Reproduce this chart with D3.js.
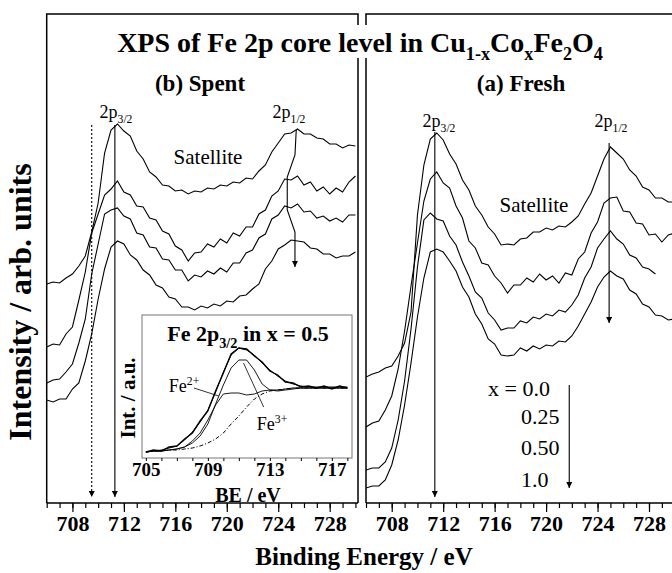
<!DOCTYPE html>
<html>
<head>
<meta charset="utf-8">
<script src="https://cdn.jsdelivr.net/npm/d3@7/dist/d3.min.js"></script>
<style>
  body { margin: 0; background: #fff; }
  svg { display: block; }
  text { font-family: "Liberation Serif", "Times New Roman", serif; fill: #000; }
</style>
</head>
<body>
<div id="chart"></div>
<script>
// Binding energy grid (eV) shared by the spectra
const energyGrid = [706,706.5,707,707.5,708,708.5,709,709.5,710,710.5,711,711.5,712,712.5,713,713.5,714,714.5,715,715.5,716,716.5,717,717.5,718,718.5,719,719.5,720,720.5,721,721.5,722,722.5,723,723.5,724,724.5,725,725.5,726,726.5,727,727.5,728,728.5,729,729.5,730];

// (b) Spent - intensity, arb. units (stacked, top to bottom)
const spent0 = [219,221,220,225,229,237,247,271,300,350,373,379,372,367,352,344,331,326,318,317,312,313,309,312,311,315,314,318,317,321,320,325,324,332,338,351,360,369,370,374,369,369,365,364,359,359,355,358,357];
const spent1 = [156,159,158,169,176,203,231,270,289,308,314,322,311,308,297,296,285,283,272,269,257,253,242,250,251,259,256,264,260,270,267,276,276,289,293,307,312,324,323,327,318,321,312,316,309,315,311,321,327];
const spent2 = [120,123,124,131,139,160,184,229,259,289,293,295,287,284,270,268,256,255,244,243,233,233,222,228,226,232,229,235,231,240,240,250,253,265,269,284,288,297,295,299,291,292,285,287,282,285,281,288,288];
const spent3 = [103,101,104,104,114,120,142,169,204,234,256,262,259,248,243,233,228,218,215,206,204,196,196,193,197,195,199,197,202,201,207,208,214,219,234,242,254,258,263,262,261,255,254,249,249,245,247,247,251];

// (a) Fresh - x = 0.0, 0.25, 0.50, 1.0
const fresh0 = [126,129,131,135,137,147,160,191,288,338,364,370,363,349,339,323,313,297,288,276,269,258,259,258,264,265,271,271,275,273,277,276,281,287,299,310,327,344,356,350,344,333,327,316,313,305,305,301,301];
const fresh1 = [76,80,82,93,107,134,172,217,260,302,324,331,320,315,297,285,262,255,240,238,227,220,210,218,218,225,221,229,223,227,220,230,228,244,251,270,281,300,305,306,292,291,280,279,268,269,261,268,270];
const fresh2 = [33,35,35,41,55,83,122,174,236,283,290,284,282,267,258,241,227,211,205,190,183,173,175,175,182,180,186,184,189,187,193,191,198,208,225,236,255,264,272,264,259,248,245,236,234,229,null,null,null];
const fresh3 = [15,17,17,23,38,63,98,140,186,225,251,254,251,242,232,216,206,189,179,164,159,148,147,148,155,152,157,154,158,157,162,161,167,177,189,201,216,226,232,227,224,213,209,199,196,188,187,183,184];

// Inset: Fe 2p3/2 fit for x = 0.5
const insetEnergy = [705,705.5,706,706.5,707,707.5,708,708.5,709,709.5,710,710.5,711,711.5,712,712.5,713,713.5,714,714.5,715,715.5,716,716.5,717,717.5,718];
const insetData     = [6,8,7,11,12,19,25,37,47,67,85,104,110,109,102,96,87,83,76,75,71,72,70,72,69,72,70];
const insetEnvelope = [6,7,8,10,12,18,26,36,48,66,86,103,110,108,103,95,88,82,77,74,72,71,71,71,71,71,71];
const insetFe2      = [6,7,7,8,9,11,17,25,38,53,64,65,65,63,64,67,68,68,69,70,70,70,70,70,70,70,70];
const insetFe3      = [6,7,7,8,9,11,15,22,34,54,73,90,98,98,88,74,68,67,68,69,70,70,70,70,70,70,70];
const insetBackground = [6,7,7,8,8,9,10,12,15,19,25,34,42,51,59,64,67,68,69,70,70,70,70,70,70,70,70];

const majorTicks = [708,712,716,720,724,728];
const minorTicks = [706,707,708,709,710,711,712,713,714,715,716,717,718,719,720,721,722,723,724,725,726,727,728,729,730];
const insetTickLabels = [705,709,713,717];
const insetTicks = [705,706,707,708,709,710,711,712,713,714,715,716,717,718];
const legendLabels = ["x = 0.0", "0.25", "0.50", "1.0"];

const W = 672, H = 573;

const svg = d3.select("#chart").append("svg")
    .attr("width", W).attr("height", H);

const defs = svg.append("defs");
defs.append("marker")
    .attr("id", "head")
    .attr("viewBox", "0 0 10 10")
    .attr("refX", 10).attr("refY", 5)
    .attr("markerWidth", 10).attr("markerHeight", 6)
    .attr("markerUnits", "userSpaceOnUse")
    .attr("orient", "auto")
  .append("path")
    .attr("d", "M0,0 L10,5 L0,10 Z")
    .attr("fill", "#000");
defs.append("clipPath").attr("id", "clipFresh")
  .append("rect").attr("x", 366).attr("y", 0).attr("width", 306).attr("height", 503);

// scales
const xSpent = d3.scaleLinear().domain([706, 730.2]).range([46.7, 358]);
const xFresh = d3.scaleLinear().domain([706, 730.2]).range([366, 677.3]);
const y = d3.scaleLinear().domain([0, 489]).range([503, 14]);

// texto com subscritos: parts = [[texto, "sub"|"sup"|null], ...]
function richText(g, x, yPos, parts, size, opts = {}) {
    const t = g.append("text")
        .attr("transform", `translate(${x},${yPos})` + (opts.rotate ? ` rotate(${opts.rotate})` : ""))
        .attr("text-anchor", opts.anchor || "middle")
        .attr("font-size", size)
        .attr("font-weight", opts.bold ? "bold" : "normal");
    let shift = 0;
    parts.forEach(([s, kind]) => {
        const target = kind === "sub" ? size * 0.3 : kind === "sup" ? -size * 0.4 : 0;
        t.append("tspan")
            .attr("dy", target - shift)
            .attr("font-size", kind ? size * 0.65 : size)
            .text(s);
        shift = target;
    });
    return t;
}

const line = (x, energies) => d3.line()
    .defined(d => d != null)
    .x((d, i) => x(energies[i]))
    .y(d => y(d));

// frames
const frame = svg.append("g").attr("fill", "none").attr("stroke", "#000").attr("stroke-width", 1.5);
frame.append("path").attr("d", `M46.7,503 V14 H358 V25 M358,58 V503`);
frame.append("path").attr("d", `M672,14 H366 V25 M366,58 V503`);

// axes
function drawAxis(x, x0, x1) {
    const g = svg.append("g").attr("transform", "translate(0,503)");
    g.append("line").attr("x1", x0).attr("x2", x1).attr("stroke", "#000").attr("stroke-width", 1.5);
    g.append("g")
        .call(d3.axisBottom(x).tickValues(minorTicks.filter(d => x(d) <= 672)).tickSize(5).tickFormat(""))
        .call(a => a.select(".domain").remove());
    const maj = g.append("g")
        .call(d3.axisBottom(x).tickValues(majorTicks).tickSize(9).tickPadding(3).tickFormat(d3.format("d")))
        .call(a => a.select(".domain").remove());
    maj.selectAll("text")
        .attr("font-family", "Liberation Serif, serif")
        .attr("font-size", 22).attr("font-weight", "bold");
    g.selectAll(".tick line").attr("stroke-width", 1.2);
}
drawAxis(xSpent, 46.7, 358);
drawAxis(xFresh, 366, 672);

// spectra
const spectra = svg.append("g").attr("fill", "none").attr("stroke", "#000").attr("stroke-width", 1.1);
[spent0, spent1, spent2, spent3].forEach(s =>
    spectra.append("path").attr("d", line(xSpent, energyGrid)(s)));
const freshG = spectra.append("g").attr("clip-path", "url(#clipFresh)");
[fresh0, fresh1, fresh2, fresh3].forEach(s =>
    freshG.append("path").attr("d", line(xFresh, energyGrid)(s)));

// arrows
const arrows = svg.append("g").attr("fill", "none").attr("stroke", "#000").attr("stroke-width", 1.1);
function arrow(x, pts, dashed) {
    arrows.append("path")
        .attr("d", d3.line().x(p => x(p[0])).y(p => y(p[1]))(pts))
        .attr("stroke-dasharray", dashed ? "2,2" : null)
        .attr("marker-end", "url(#head)");
}
arrow(xSpent, [[709.5, 378], [709.5, 6]], true);
arrow(xSpent, [[711.3, 378], [711.3, 6]]);
arrow(xSpent, [[725.4, 373], [725.3, 348], [724.7, 326], [724.7, 293], [725.3, 271], [725.3, 236]]);
arrow(xFresh, [[711.35, 371], [711.35, 6]]);
arrow(xFresh, [[724.9, 360], [724.9, 180]]);
arrow(xFresh, [[721.8, 118], [721.8, 15]]);

// title
richText(svg, 360, 52, [["XPS of Fe 2p core level in Cu"], ["1-x", "sub"], ["Co"], ["x", "sub"], ["Fe"], ["2", "sub"], ["O"], ["4", "sub"]], 28, { bold: true });
richText(svg, 200, 91, [["(b) Spent"]], 23, { bold: true });
richText(svg, 521, 91, [["(a) Fresh"]], 23, { bold: true });

// peak labels
richText(svg, 116, 118, [["2p"], ["3/2", "sub"]], 18);
richText(svg, 289, 118, [["2p"], ["1/2", "sub"]], 18);
richText(svg, 208, 164, [["Satellite"]], 21);
richText(svg, 439, 127, [["2p"], ["3/2", "sub"]], 18);
richText(svg, 611, 127, [["2p"], ["1/2", "sub"]], 18);
richText(svg, 534, 212, [["Satellite"]], 21);

// legenda (x)
legendLabels.forEach((s, i) => {
    richText(svg, i === 0 ? 488 : 521, [396, 424, 455, 487][i], [[s]], 22, { anchor: "start" });
});

// axis titles
richText(svg, 364, 565, [["Binding Energy / eV"]], 25, { bold: true });
richText(svg, 31, 302, [["Intensity / arb. units"]], 32, { bold: true, rotate: -90 });

// inset
const xIn = d3.scaleLinear().domain([704.75, 718.3]).range([142, 352]);
const yIn = d3.scaleLinear().domain([0, 143]).range([458, 315]);
const inset = svg.append("g");
inset.append("rect").attr("x", 142).attr("y", 315).attr("width", 210).attr("height", 143)
    .attr("fill", "#fff").attr("stroke", "#777").attr("stroke-width", 1);
const inLine = d3.line().x((d, i) => xIn(insetEnergy[i])).y(d => yIn(d));
const inCurves = inset.append("g").attr("fill", "none").attr("stroke", "#000");
inCurves.append("path").attr("d", inLine(insetBackground)).attr("stroke-width", 1).attr("stroke-dasharray", "4,2,1,2");
inCurves.append("path").attr("d", inLine(insetFe2)).attr("stroke-width", 0.9);
inCurves.append("path").attr("d", inLine(insetFe3)).attr("stroke-width", 0.9);
inCurves.append("path").attr("d", inLine(insetEnvelope)).attr("stroke-width", 1);
inCurves.append("path").attr("d", inLine(insetData)).attr("stroke-width", 1.4);
const inAxis = inset.append("g").attr("transform", "translate(0,458)")
    .call(d3.axisBottom(xIn).tickValues(insetTicks).tickSize(3).tickFormat(d => insetTickLabels.includes(d) ? d : "").tickPadding(2))
    .call(a => a.select(".domain").remove());
inAxis.selectAll("text").attr("font-family", "Liberation Serif, serif").attr("font-size", 19)
    .attr("font-weight", "bold");
richText(inset, 248, 341, [["Fe 2p"], ["3/2", "sub"], [" in x = 0.5"]], 22, { bold: true });
richText(inset, 135, 398, [["Int. / a.u."]], 21, { bold: true, rotate: -90 });
richText(inset, 184, 392, [["Fe"], ["2+", "sup"]], 18);
richText(inset, 272, 430, [["Fe"], ["3+", "sup"]], 18);
inset.append("path").attr("d", `M${xIn(708.1)},${yIn(70)} L${xIn(709.7)},${yIn(62)}`).attr("stroke", "#000").attr("stroke-width", 0.8);
inset.append("path").attr("d", `M${xIn(711.3)},${yIn(95)} L${xIn(712.6)},${yIn(51)}`).attr("stroke", "#000").attr("stroke-width", 0.8);
richText(inset, 248, 502, [["BE / eV"]], 20, { bold: true });
</script>
</body>
</html>
